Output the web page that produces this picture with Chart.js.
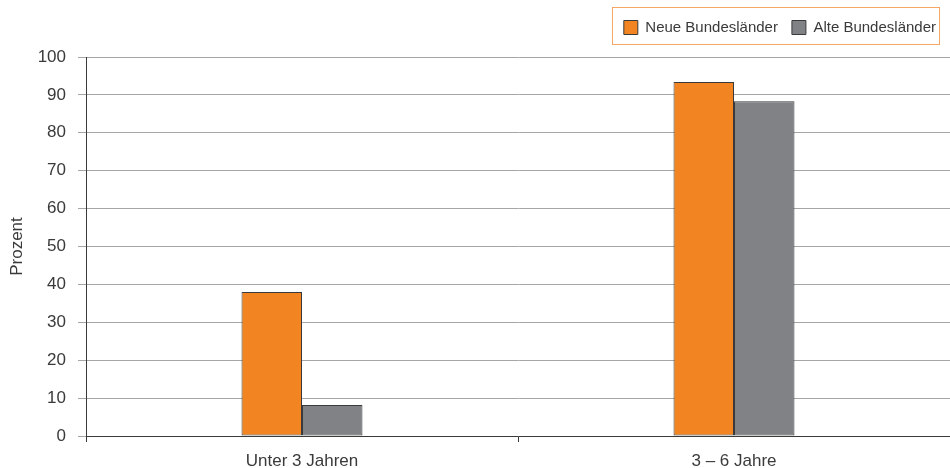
<!DOCTYPE html>
<html>
<head>
<meta charset="utf-8">
<script src="https://cdn.jsdelivr.net/npm/chart.js@4.4.1/dist/chart.umd.min.js"></script>
<style>
  html, body { margin: 0; padding: 0; background: #fff; }
  #wrap { width: 950px; height: 468px; position: relative; }
</style>
</head>
<body>
<div id="wrap"><canvas id="chart"></canvas></div>
<script>
// chart data
const categories = ['Unter 3 Jahren', '3 \u2013 6 Jahre'];
const seriesNames = ['Neue Bundesl\u00e4nder', 'Alte Bundesl\u00e4nder'];
const neueValues = [38, 93.4];
const alteValues = [8.2, 88.3];
const yTicks = [0, 10, 20, 30, 40, 50, 60, 70, 80, 90, 100];

const orange = '#f28521';
const grey = '#818286';
const textColor = '#3a3a3a';
const fontFamily = 'Liberation Sans, Arial, sans-serif';

// legend gets a bit more room above the plot
const legendSpace = {
    id: 'legendSpace',
    beforeInit(chart) {
        const origFit = chart.legend.fit;
        chart.legend.fit = function() {
            origFit.bind(chart.legend)();
            this.height += 12;
        };
    }
};

// draws the orange frame around the legend
const legendFrame = {
    id: 'legendFrame',
    afterDraw(chart) {
        const boxes = chart.legend.legendHitBoxes;
        if (!boxes || !boxes.length) return;
        let left = Infinity, right = -Infinity;
        boxes.forEach(b => {
            left = Math.min(left, b.left);
            right = Math.max(right, b.left + b.width);
        });
        const ctx = chart.ctx;
        ctx.save();
        ctx.strokeStyle = '#f5a866';
        ctx.lineWidth = 1;
        ctx.strokeRect(Math.round(left - 12) + 0.5, 7.5, Math.round(right - left + 15), 37);
        ctx.restore();
    }
};

const ctx = document.getElementById('chart').getContext('2d');
const chart = new Chart(ctx, {
    type: 'bar',
    data: {
        labels: categories,
        datasets: [{
            label: seriesNames[0],
            data: neueValues,
            backgroundColor: orange,
            borderColor: '#3a3a3a',
            borderWidth: 1,
            borderSkipped: false,
            barPercentage: 1,
            categoryPercentage: 0.28
        }, {
            label: seriesNames[1],
            data: alteValues,
            backgroundColor: grey,
            borderColor: '#3a3a3a',
            borderWidth: 1,
            borderSkipped: false,
            barPercentage: 1,
            categoryPercentage: 0.28
        }]
    },
    options: {
        responsive: true,
        maintainAspectRatio: false,
        animation: false,
        layout: {
            padding: { left: 0, right: 0, top: 6, bottom: 0 }
        },
        scales: {
            x: {
                afterFit: function(axis) { axis.height = 32; },
                grid: {
                    display: true,
                    drawOnChartArea: false,
                    drawTicks: true,
                    tickLength: 6,
                    color: '#3a3a3a',
                    offset: true
                },
                border: { color: '#3a3a3a', width: 1 },
                ticks: {
                    color: textColor,
                    padding: 9,
                    font: { family: fontFamily, size: 17 }
                }
            },
            y: {
                min: 0,
                max: 100,
                afterFit: function(axis) { axis.width = 86; },
                afterBuildTicks: function(axis) {
                    axis.ticks = yTicks.map(v => ({ value: v }));
                },
                grid: {
                    color: '#a6a6a6',
                    lineWidth: 1,
                    tickLength: 8,
                    tickColor: '#a6a6a6'
                },
                border: { color: '#3a3a3a', width: 1 },
                ticks: {
                    color: textColor,
                    padding: 12,
                    font: { family: fontFamily, size: 17 }
                },
                title: {
                    display: true,
                    text: 'Prozent',
                    color: textColor,
                    padding: { top: 7, bottom: 4 },
                    font: { family: fontFamily, size: 17 }
                }
            }
        },
        plugins: {
            legend: {
                display: true,
                position: 'top',
                align: 'end',
                labels: {
                    boxWidth: 14,
                    boxHeight: 14,
                    padding: 14,
                    color: textColor,
                    font: { family: fontFamily, size: 15 }
                }
            },
            tooltip: { enabled: false }
        }
    },
    plugins: [legendSpace, legendFrame]
});
</script>
</body>
</html>
